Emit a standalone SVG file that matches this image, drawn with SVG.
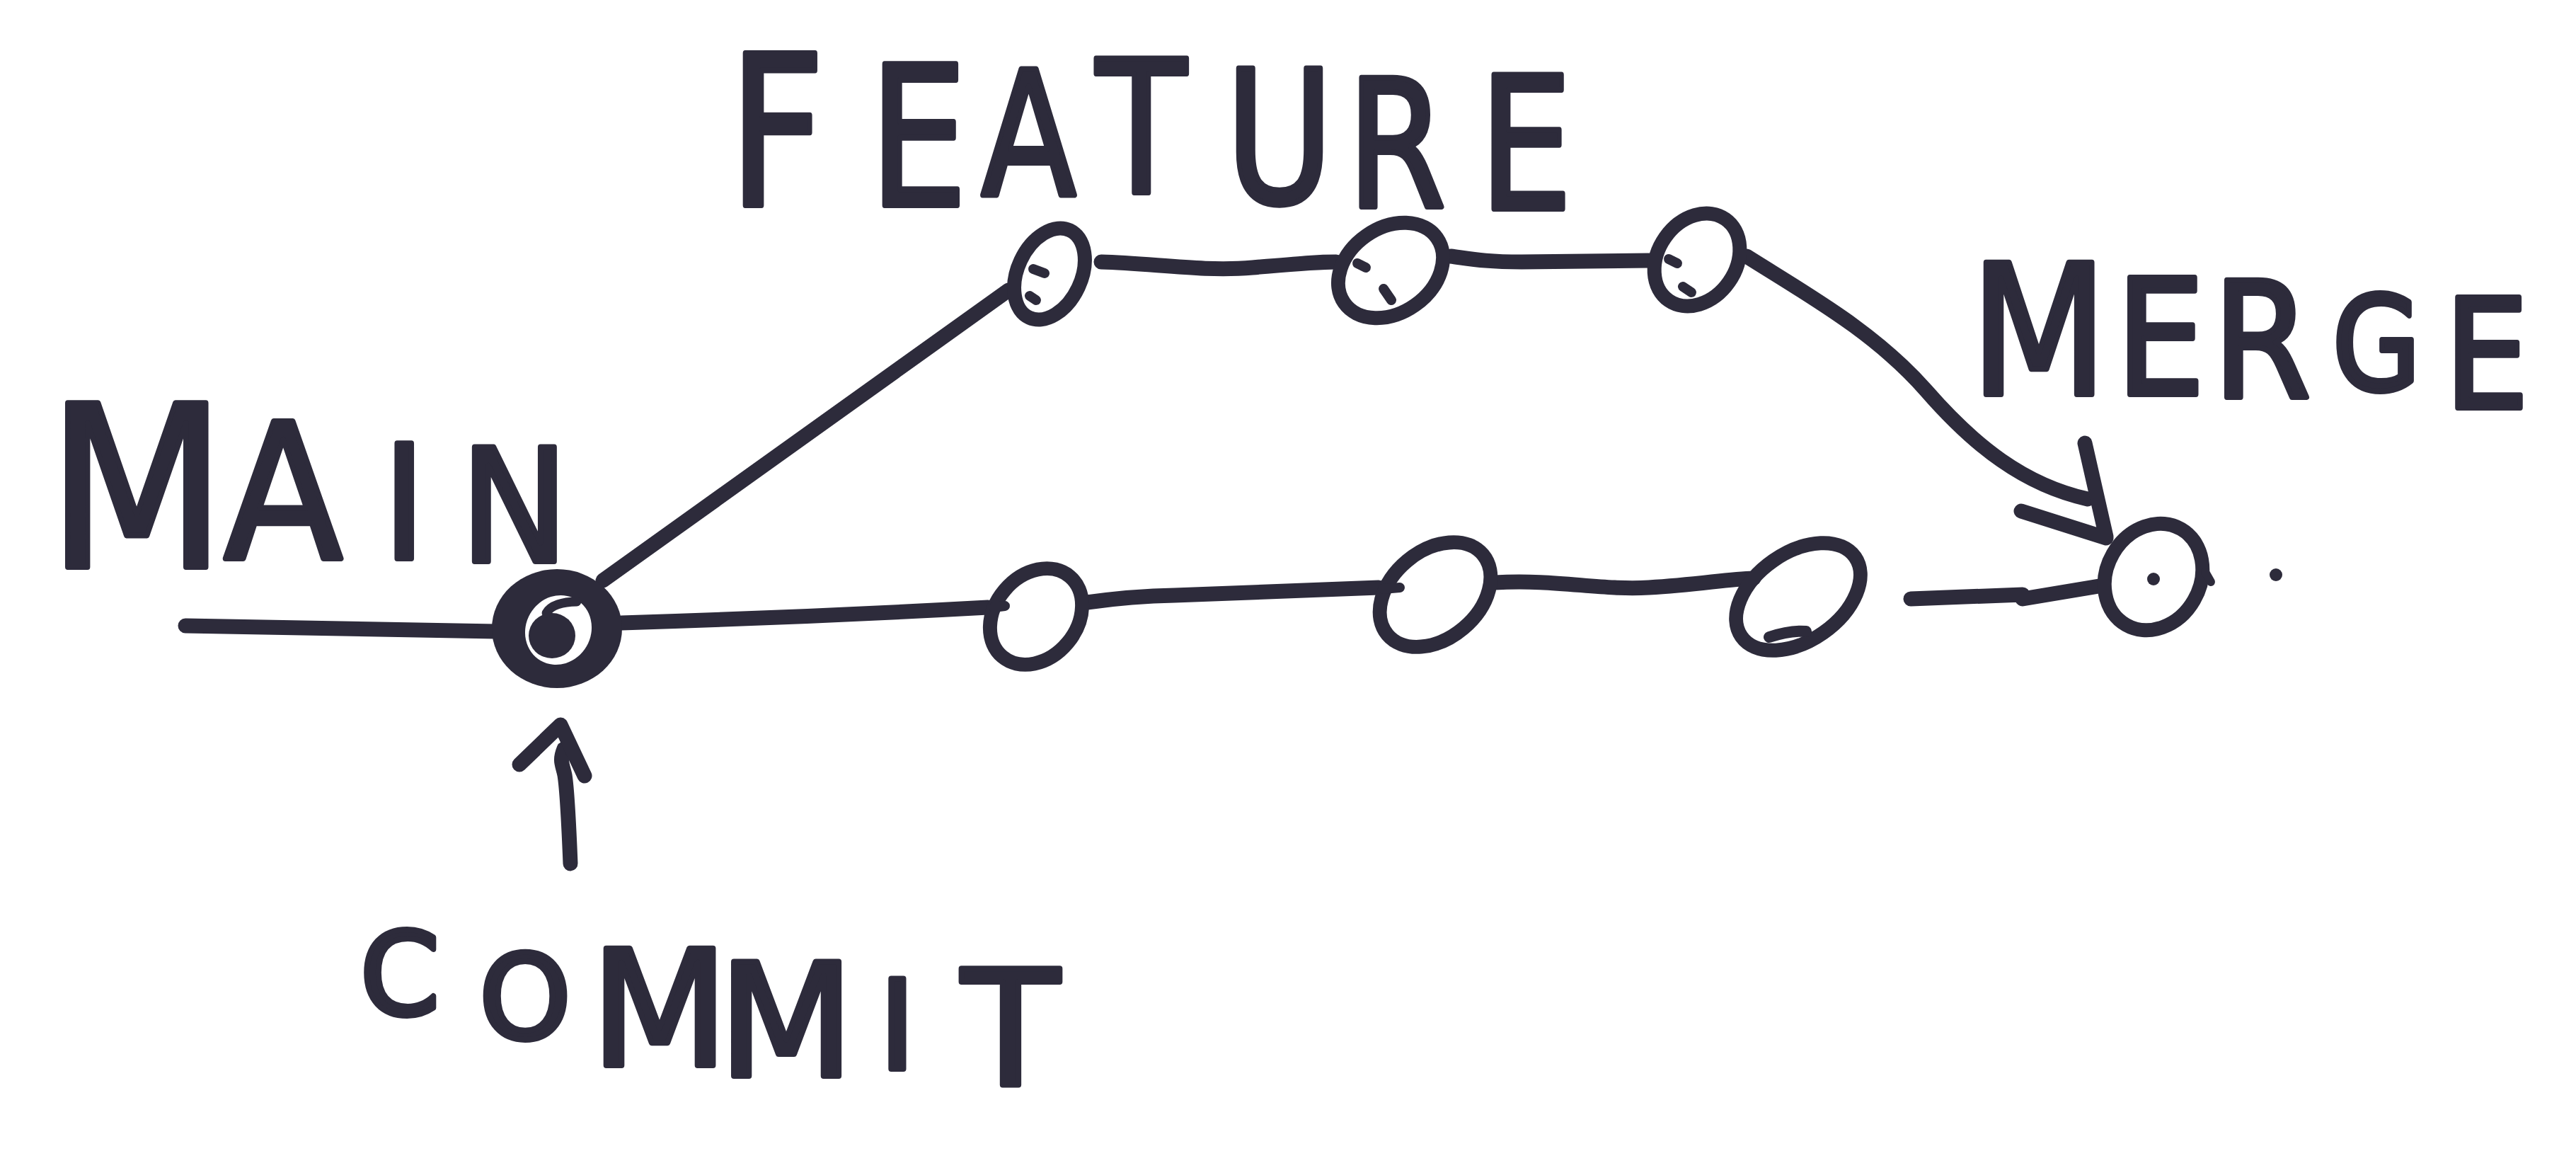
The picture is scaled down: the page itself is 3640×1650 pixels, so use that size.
<svg xmlns="http://www.w3.org/2000/svg" width="3640" height="1650" viewBox="0 0 3640 1650">
<style>
.ink{fill:none;stroke:#2d2b3b;stroke-linecap:round;stroke-linejoin:round}
.line{stroke-width:21}
.node{stroke-width:20}
.hook{stroke-width:14}
.fillink{fill:#2d2b3b}
.lbl{font-family:"DejaVu Sans","Liberation Sans",sans-serif;fill:#2d2b3b;stroke:#2d2b3b;stroke-width:8;stroke-linejoin:round;stroke-linecap:round;text-anchor:middle}
</style>
<rect width="3640" height="1650" fill="#ffffff"/>

<g id="connectors" class="ink line">
  <path d="M262 884 L700 892"/>
  <path d="M878 880 Q1140 872 1396 858"/>
  <path d="M1536 851 Q1600 842 1660 841 L1948 830"/>
  <path d="M2112 823 C2200 818 2260 834 2330 830 S2440 818 2478 817"/>
  <path d="M2700 846 L2858 840 M2858 846 L2966 828"/>
  <path d="M852 820 Q1140 615 1425 410"/>
  <path d="M1556 370 C1630 372 1700 384 1770 378 S1860 370 1888 370"/>
  <path d="M2050 362 C2080 366 2100 370 2150 370 C2230 369 2290 368 2330 368"/>
  <path d="M2468 362 C2560 420 2650 470 2722 552 C2790 630 2860 685 2950 705"/>
  <path d="M2946 626 L2976 758 M2856 722 L2976 760"/>
  <path d="M806 1220 C804 1170 802 1120 798 1095 C795 1080 790 1075 797 1058"/>
  <path d="M734 1080 L792 1024 L826 1096"/>
</g>

<g id="commit-node">
  <ellipse class="fillink" cx="787" cy="888" rx="92" ry="84"/>
  <ellipse fill="#ffffff" cx="789" cy="890" rx="46" ry="50" transform="rotate(30 789 890)"/>
  <ellipse class="fillink" cx="780" cy="898" rx="33" ry="32"/>
  <path class="ink" stroke-width="13" d="M772 866 C778 855 795 850 815 850"/>
</g>

<g id="main-1"><ellipse class="ink node" cx="1464" cy="871" rx="58" ry="74" transform="rotate(40 1464 871)"/>
  <path class="ink hook" d="M1404 858 L1420 856"/></g>
<g id="main-2"><ellipse class="ink node" cx="2028" cy="840" rx="62" ry="88" transform="rotate(50 2028 840)"/>
  <path class="ink hook" d="M1954 832 L1978 830"/></g>
<g id="main-3"><ellipse class="ink node" cx="2541" cy="843" rx="62" ry="98" transform="rotate(55 2541 843)"/>
  <path class="ink" stroke-width="16" d="M2500 900 Q2530 890 2552 892"/></g>

<g id="feature-1"><ellipse class="ink node" cx="1483" cy="387" rx="45" ry="68" transform="rotate(25 1483 387)"/>
  <path class="ink hook" d="M1460 380 L1476 386 M1455 418 L1464 424"/></g>
<g id="feature-2"><ellipse class="ink node" cx="1965" cy="382" rx="60" ry="80" transform="rotate(55 1965 382)"/>
  <path class="ink hook" d="M1918 372 L1930 378 M1955 408 L1966 424"/></g>
<g id="feature-3"><ellipse class="ink node" cx="2398" cy="367" rx="55" ry="70" transform="rotate(35 2398 367)"/>
  <path class="ink hook" d="M2358 366 L2370 372 M2378 405 L2390 413"/></g>

<g id="merge-node">
  <ellipse class="ink node" cx="3043" cy="815" rx="66" ry="78" transform="rotate(30 3043 815)"/>
  <circle class="fillink" cx="3043" cy="818" r="9"/>
  <path class="ink" stroke-width="12" d="M3116 808 L3124 822"/>
</g>
<g id="trail-dot"><circle class="fillink" cx="3216" cy="812" r="9"/></g>

<g id="label-feature">
<text class="lbl" transform="scale(0.8 1)"><tspan x="1372" y="290" font-size="295">F</tspan><tspan x="1622" y="290" font-size="274">E</tspan><tspan x="1817" y="276" font-size="244">A</tspan><tspan x="2016" y="272" font-size="260">T</tspan><tspan x="2260" y="286" font-size="260">U</tspan><tspan x="2467" y="292" font-size="250">R</tspan><tspan x="2695" y="295" font-size="260">E</tspan></text>
</g>
<g id="label-main">
<text class="lbl" transform="scale(0.92 1)"><tspan x="210" y="801" font-size="318">M</tspan><tspan x="435" y="789" font-size="266">A</tspan><tspan x="621" y="789" font-size="223">I</tspan><tspan x="790" y="793" font-size="222">N</tspan></text>
</g>
<g id="label-merge">
<text class="lbl" transform="scale(0.88 1)"><tspan x="3274" y="557" font-size="255">M</tspan><tspan x="3469" y="557" font-size="226">E</tspan><tspan x="3632" y="561" font-size="226">R</tspan><tspan x="3816" y="550" font-size="183">G</tspan><tspan x="3993" y="576" font-size="214">E</tspan></text>
</g>
<g id="label-commit">
<text class="lbl"><tspan x="565" y="1433" font-size="160">C</tspan><tspan x="742" y="1467" font-size="164">O</tspan><tspan x="932" y="1505" font-size="226">M</tspan><tspan x="1111" y="1520" font-size="222">M</tspan><tspan x="1268" y="1510" font-size="174">I</tspan><tspan x="1428" y="1532" font-size="225">T</tspan></text>
</g>
</svg>
